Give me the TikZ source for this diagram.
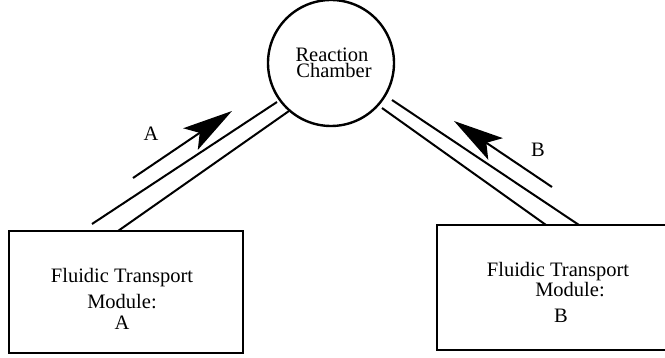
\documentclass[tikz,border=0pt]{standalone}
\usepackage{fontspec}
\setmainfont{Liberation Serif}
\usetikzlibrary{arrows.meta}
\begin{document}
\begin{tikzpicture}[x=1pt,y=-1pt,
  modbox/.style={draw,line width=2.8pt,rectangle,inner sep=0pt,outer sep=0pt,anchor=north west},
  boxline/.style={line width=2.8pt},
  chamb/.style={draw,line width=2.4pt,circle,inner sep=0pt,outer sep=0pt,minimum size=126pt},
  tube/.style={line width=2pt},
  flow/.style={line width=2pt,-{Stealth[length=50pt,width=26pt,inset=11pt]}},
  txt/.style={font=\fontsize{20.5}{20}\selectfont,inner sep=0pt,anchor=base}]
\useasboundingbox (0,0) rectangle (665,358);
\node[chamb] (ch) at (331,63) {};
\node[modbox,minimum width=234pt,minimum height=122pt] (ma) at (9,231) {};
% right module box, cut off by the right margin
\coordinate (mbtr) at (665,225);
\coordinate (mbtl) at (437,225);
\coordinate (mbbl) at (437,350);
\coordinate (mbbr) at (665,350);
\draw[boxline] (mbtr) -- (mbtl) -- (mbbl) -- (mbbr);
% text
\node[txt] (t1) at (332,62) {Reaction};
\node[txt] (t2) at (334,78) {Chamber};
\node[txt] (a1) at (122,283) {Fluidic Transport};
\node[txt] (a2) at (122,309) {Module:};
\node[txt] (a3) at (122,330) {A};
\node[txt] (b1) at (558,277) {Fluidic Transport};
\node[txt] (b2) at (570,297) {Module:};
\node[txt] (b3) at (561,323) {B};
\node[txt] (la) at (151,141) {A};
\node[txt] (lb) at (538,157) {B};
% tubes
\coordinate (p1) at (92,224);
\coordinate (p2) at (277,102);
\coordinate (p3) at (118,231);
\coordinate (p4) at (289,111);
\draw[tube] (p1) -- (p2);
\draw[tube] (p3) -- (p4);
\coordinate (q1) at (392,100);
\coordinate (q2) at (579,225);
\coordinate (q3) at (382,108);
\coordinate (q4) at (546,225);
\draw[tube] (q1) -- (q2);
\draw[tube] (q3) -- (q4);
% flow arrows
\coordinate (fa1) at (133,178);
\coordinate (fa2) at (232,111);
\coordinate (fb1) at (552,187);
\coordinate (fb2) at (454,121);
\draw[flow] (fa1) -- (fa2);
\draw[flow] (fb1) -- (fb2);
\end{tikzpicture}
\end{document}
